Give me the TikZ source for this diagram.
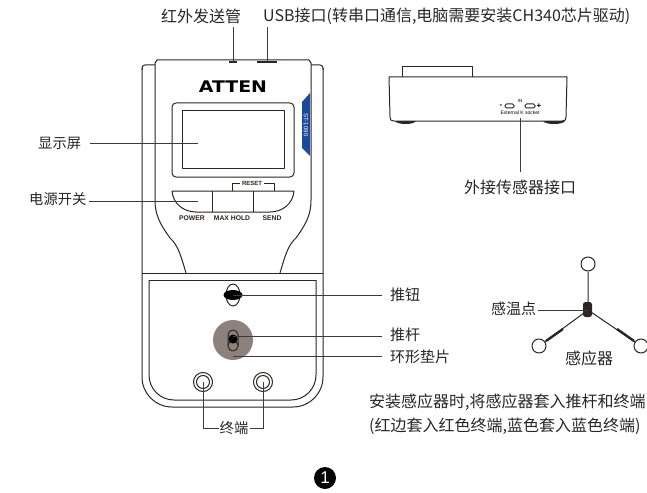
\documentclass[tikz,border=0pt]{standalone}
\usepackage{fontspec}
\setmainfont{Noto Sans CJK SC}
\newfontfamily\latinfont{Liberation Sans}
\newfontfamily\logofont{DejaVu Sans}
\definecolor{inkline}{HTML}{2B2523}
\definecolor{padgray}{HTML}{8C817C}
\definecolor{tabblue}{HTML}{1B4A9C}
\tikzset{
  outline/.style={draw=inkline, line width=1pt, line join=round},
  leader/.style={draw=inkline!90, line width=.8pt},
  caption/.style={inner sep=0pt, text=black!85, font=\fontsize{15}{17}\selectfont},
  smallcaption/.style={caption, font=\fontsize{14.3}{16}\selectfont},
  bigcaption/.style={caption, font=\fontsize{16}{18}\selectfont},
  tiny/.style={inner sep=0pt, text=inkline, font=\latinfont\bfseries\fontsize{6.8}{7}\selectfont},
}
\begin{document}
\begin{tikzpicture}[x=1pt,y=-1pt]
  \useasboundingbox (0,0) rectangle (647,492);
  % back plate
  \draw[outline] (142,68)[rounded corners=30pt]--(142,407)--(323,407)--(323,68);
  \draw[outline, rounded corners=3pt] (155,65)--(142,65)--(142,70);
  \draw[outline, rounded corners=3pt] (311,65)--(323,65)--(323,70);
  \draw[outline] (142,273)--(323,273);
  \draw[outline] (149,280)--(316,280);
  \draw[outline] (149,280)[rounded corners=25pt]--(149,400)--(316,400)--(316,280);
  % front body
  \draw[outline] (186,273) .. controls (181,256) and (178,245) .. (170,238) .. controls (160,224) and (155,215) .. (155,200) -- (155,63) -- (157,60) -- (309,60) -- (311,63) -- (311,200) .. controls (311,215) and (306,224) .. (296,238) .. controls (288,245) and (285,256) .. (280,273);
  % logo
  \node[inner sep=0pt] (logo) at (233,87) {\scalebox{1.18}[1]{\logofont\bfseries\fontsize{16}{16}\selectfont ATTEN}};
  % blue tab
  \fill[tabblue] (310,93)--(302,102)--(302,148)--(310,156)--cycle;
  \node[rotate=-90, inner sep=0pt, text=white] (model) at (306,125) {\latinfont\fontsize{6}{6}\selectfont ST-1090};
  % screen
  \draw[outline, rounded corners=4pt] (172,103) rectangle (294,177);
  \draw[outline] (182,111) rectangle (284,168);
  \coordinate (screen) at (198,143);
  % buttons
  \draw[outline] (172,191)--(294,191) .. controls (293,204) and (282,212) .. (270,212) -- (196,212) .. controls (184,212) and (173,204) .. (172,191);
  \draw[outline] (212,191)--(212,212) (253,191)--(253,212);
  \coordinate (powerkey) at (198,201);
  \node[tiny, font=\latinfont\bfseries\fontsize{6}{6}\selectfont] (reset) at (252,183.5) {RESET};
  \draw[outline, line width=.7pt] (232,191)--(232,183.5)--(240,183.5) (264,183.5)--(274,183.5)--(274,191);
  \node[tiny] (power) at (192,218) {POWER};
  \node[tiny] (maxhold) at (232,218) {MAX HOLD};
  \node[tiny] (send) at (272,218) {SEND};
  % top ports
  \draw[inkline, line width=1.6pt] (229,62)--(237,62);
  \draw[inkline, line width=1.6pt] (257,62)--(277,62);
  \coordinate (irport) at (233,62);
  \coordinate (usbport) at (267,62);
  \node[bigcaption, anchor=west] (irlabel) at (161,16) {红外发送管};
  \node[bigcaption, anchor=west] (usblabel) at (263,16) {USB接口(转串口通信,电脑需要安装CH340芯片驱动)};
  \draw[leader] (233,27)--(irport);
  \draw[leader] (267,27)--(usbport);
  % left labels
  \node[smallcaption, anchor=west] (screenlabel) at (38,143) {显示屏};
  \node[smallcaption, anchor=west] (powerlabel) at (29,199) {电源开关};
  \draw[leader] (90,143)--(screen);
  \draw[leader] (89,201)--(powerkey);
  % push button
  \draw[outline] (233,295) ellipse[x radius=7,y radius=11];
  \fill[black] (233,295) ellipse[x radius=9.5,y radius=5];
  \coordinate (knob) at (233,295);
  \node[caption, anchor=west] (knoblabel) at (390,295) {推钮};
  \draw[leader] (knob)--(382,295);
  % push rod with washer
  \fill[padgray] (233,340) circle[radius=20];
  \draw[outline, rounded corners=5pt] (228,330) rectangle (238,351);
  \draw[outline] (228,345) arc[start angle=180,end angle=360,x radius=5,y radius=4];
  \fill[black] (233,339) circle[radius=4.5];
  \coordinate (rod) at (233,336);
  \coordinate (washer) at (233,356);
  \node[caption, anchor=west] (rodlabel) at (390,335) {推杆};
  \node[caption, anchor=west] (washerlabel) at (390,357) {环形垫片};
  \draw[leader] (rod)--(382,336);
  \draw[leader] (washer)--(382,356);
  % terminals
  \foreach \tx/\tname in {203/terma,263/termb}{
    \draw[outline] (\tx,382) circle[radius=9.5];
    \draw[outline] (\tx,382) circle[radius=6.5];
    \coordinate (\tname) at (\tx,382);
  }
  \node[smallcaption, inner xsep=1pt] (termlabel) at (234,428) {终端};
  \draw[leader] (terma)|-(termlabel.west);
  \draw[leader] (termb)|-(termlabel.east);
  % side view
  \draw[outline] (402,77)--(402,67)--(472,67)--(472,77);
  \draw[outline] (389,77)--(567,77)--(566,117) .. controls (566,120) and (565,121) .. (562,121) -- (394,121) .. controls (391,121) and (390,120) .. (390,117) -- cycle;
  \fill[inkline] (395,121) .. controls (397,125) and (414,125) .. (416,121)--cycle;
  \fill[inkline] (543,121) .. controls (545,125) and (563,125) .. (565,121)--cycle;
  \draw[outline, rounded corners=1.5pt] (505,104) rectangle (514,108);
  \draw[outline, rounded corners=1.5pt] (525,104) rectangle (535,108);
  \node[inner sep=0pt] (minus) at (501,106) {\latinfont\bfseries\fontsize{8}{8}\selectfont -};
  \node[inner sep=0pt] (plus) at (539,106) {\latinfont\bfseries\fontsize{8}{8}\selectfont +};
  \node[inner sep=0pt] (inlabel) at (520,101) {\latinfont\fontsize{4.5}{5}\selectfont IN};
  \node[inner sep=0pt] (socket) at (520,113) {\latinfont\fontsize{5}{5}\selectfont External K socket};
  \node[bigcaption] (socketlabel) at (520,187) {外接传感器接口};
  \draw[leader] (520,118)--(520,172);
  % sensor
  \node[circle, outline, minimum size=14pt, inner sep=0pt] (tipa) at (588,264) {};
  \node[circle, outline, minimum size=14pt, inner sep=0pt] (tipb) at (539,346) {};
  \node[circle, outline, minimum size=14pt, inner sep=0pt] (tipc) at (641,346) {};
  \coordinate (joint) at (588,310);
  \draw[outline] (tipa)--(joint) (tipb)--(joint) (tipc)--(joint);
  \draw[inkline, line width=2.4pt] (tipb)++(7,-5)--(563,329);
  \draw[inkline, line width=2.4pt] (tipc)++(-7,-5)--(617,329);
  \fill[inkline, rounded corners=2.5pt] (583,302) rectangle (592,317);
  \node[caption, anchor=west] (pointlabel) at (491,309) {感温点};
  \draw[leader] (538,310)--(joint);
  \node[bigcaption] (sensorlabel) at (589,358) {感应器};
  % notes
  \node[bigcaption, anchor=west] (notea) at (369,402) {安装感应器时,将感应器套入推杆和终端};
  \node[bigcaption, anchor=west] (noteb) at (369,426) {(红边套入红色终端,蓝色套入蓝色终端)};
  % step mark
  \node[circle, fill=black, text=white, minimum size=22pt, inner sep=0pt, font=\latinfont\fontsize{17}{17}\selectfont] (stepmark) at (325,478) {1};
\end{tikzpicture}
\end{document}
